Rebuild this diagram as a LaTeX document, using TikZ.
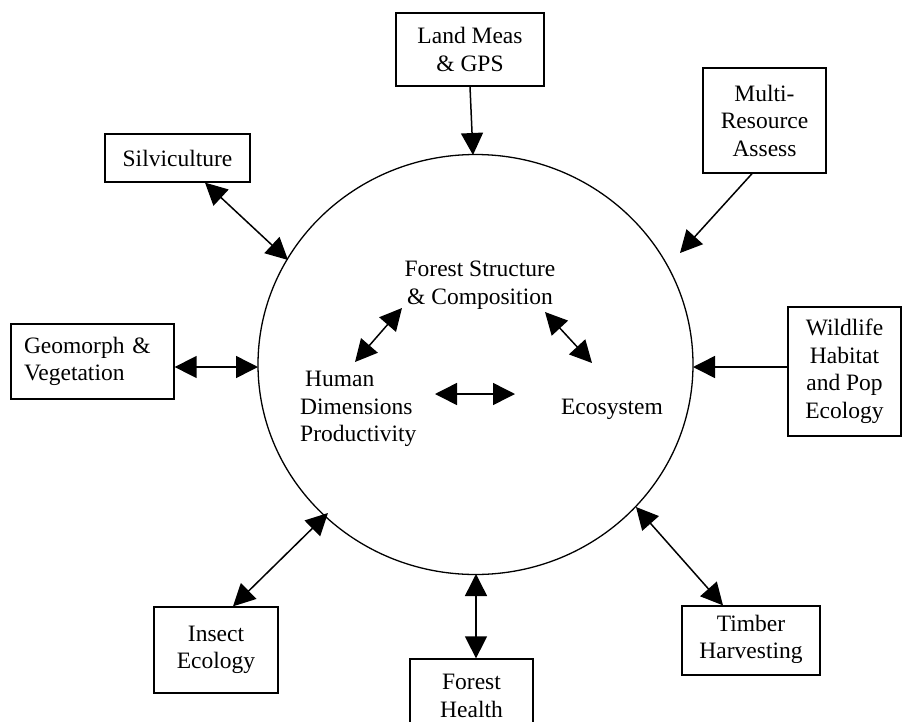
\documentclass[tikz,border=0pt]{standalone}
\usepackage{fontspec}
\setmainfont{Liberation Serif}
\usetikzlibrary{arrows.meta,shapes.geometric}
\begin{document}
\begin{tikzpicture}[x=1pt,y=-1pt,
  txt/.style={inner sep=0pt,align=center,font=\fontsize{23.5}{27.5}\selectfont},
  box/.style={draw,line width=1.3pt,inner sep=0pt,align=center,font=\fontsize{23.5}{27.5}\selectfont},
  con/.style={line width=1.5pt},
  one/.style={con,-{Triangle[length=22pt,width=22pt]}},
  two/.style={con,{Triangle[length=22pt,width=22pt]}-{Triangle[length=22pt,width=22pt]}}
]
\useasboundingbox (0,0) rectangle (903,721);
\clip (0,0) rectangle (903,721);

% central circle
\node[ellipse,draw,line width=1.3pt,minimum width=435pt,minimum height=420pt,inner sep=0pt] (hub) at (475.5,364.5) {};

% outer boxes
\node[box,minimum width=148pt,minimum height=73pt] (land) at (470,49.5) {Land Meas\\\& GPS};
\node[box,minimum width=123pt,minimum height=105pt] (multi) at (764.5,120.5) {Multi-\\Resource\\Assess};
\node[box,minimum width=145pt,minimum height=48pt] (silv) at (177.5,158) {Silviculture};
\node[box,minimum width=163pt,minimum height=75pt,align=left,text width=137pt] (geo) at (92.5,361.5) {Geomorph \&\\Vegetation};
\node[box,minimum width=113pt,minimum height=129pt] (wild) at (844.5,371.5) {Wildlife\\Habitat\\and Pop\\Ecology};
\node[box,minimum width=124pt,minimum height=86pt] (insect) at (216,650) {Insect\\Ecology};
\node[box,minimum width=123pt,minimum height=90pt] (health) at (471.5,704) {};
\node[txt] (healthtxt) at (471.5,696) {Forest\\Health};
\node[box,minimum width=138pt,minimum height=69pt] (timber) at (751,640.5) {};
\begin{scope}
  \clip (682,600) rectangle (820,662.5);
  \node[txt] (timbertxt) at (751,639.5) {Timber\\Harvesting};
\end{scope}

% inner labels
\node[txt] (fsc) at (480,285) {Forest Structure\\\& Composition};
\node[txt,align=left,anchor=west] (human) at (300,409) {\hspace{5pt}Human\\Dimensions\\Productivity};
\node[txt] (eco) at (612,409) {Ecosystem};

% connector ends on the circle
\coordinate (hTop) at (473,155);
\coordinate (hNE) at (680,253);
\coordinate (hNW) at (288,260);
\coordinate (hW) at (258,367);
\coordinate (hE) at (693,367);
\coordinate (hSW) at (328,513);
\coordinate (hS) at (476,574);
\coordinate (hSE) at (636,507);

% outer connectors
\draw[one] (land.south) -- (hTop);
\draw[one] ([xshift=-12.5pt]multi.south) -- (hNE);
\draw[two] ([xshift=27.5pt]silv.south) -- (hNW);
\draw[two] ([yshift=-5.5pt]geo.east) -- (hW);
\draw[one] ([yshift=4.5pt]wild.west) -- (hE);
\draw[two] ([xshift=17pt]insect.north) -- (hSW);
\draw[two] ([xshift=4.5pt]health.north) -- (hS);
\draw[two] ([xshift=-28pt]timber.north) -- (hSE);

% inner connectors
\coordinate (a1) at (355,362);
\coordinate (a2) at (402,308);
\coordinate (b1) at (545,312);
\coordinate (b2) at (592,363);
\coordinate (c1) at (435,394);
\coordinate (c2) at (515,394);
\draw[two] (a1) -- (a2);
\draw[two] (b1) -- (b2);
\draw[two] (c1) -- (c2);
\end{tikzpicture}
\end{document}
